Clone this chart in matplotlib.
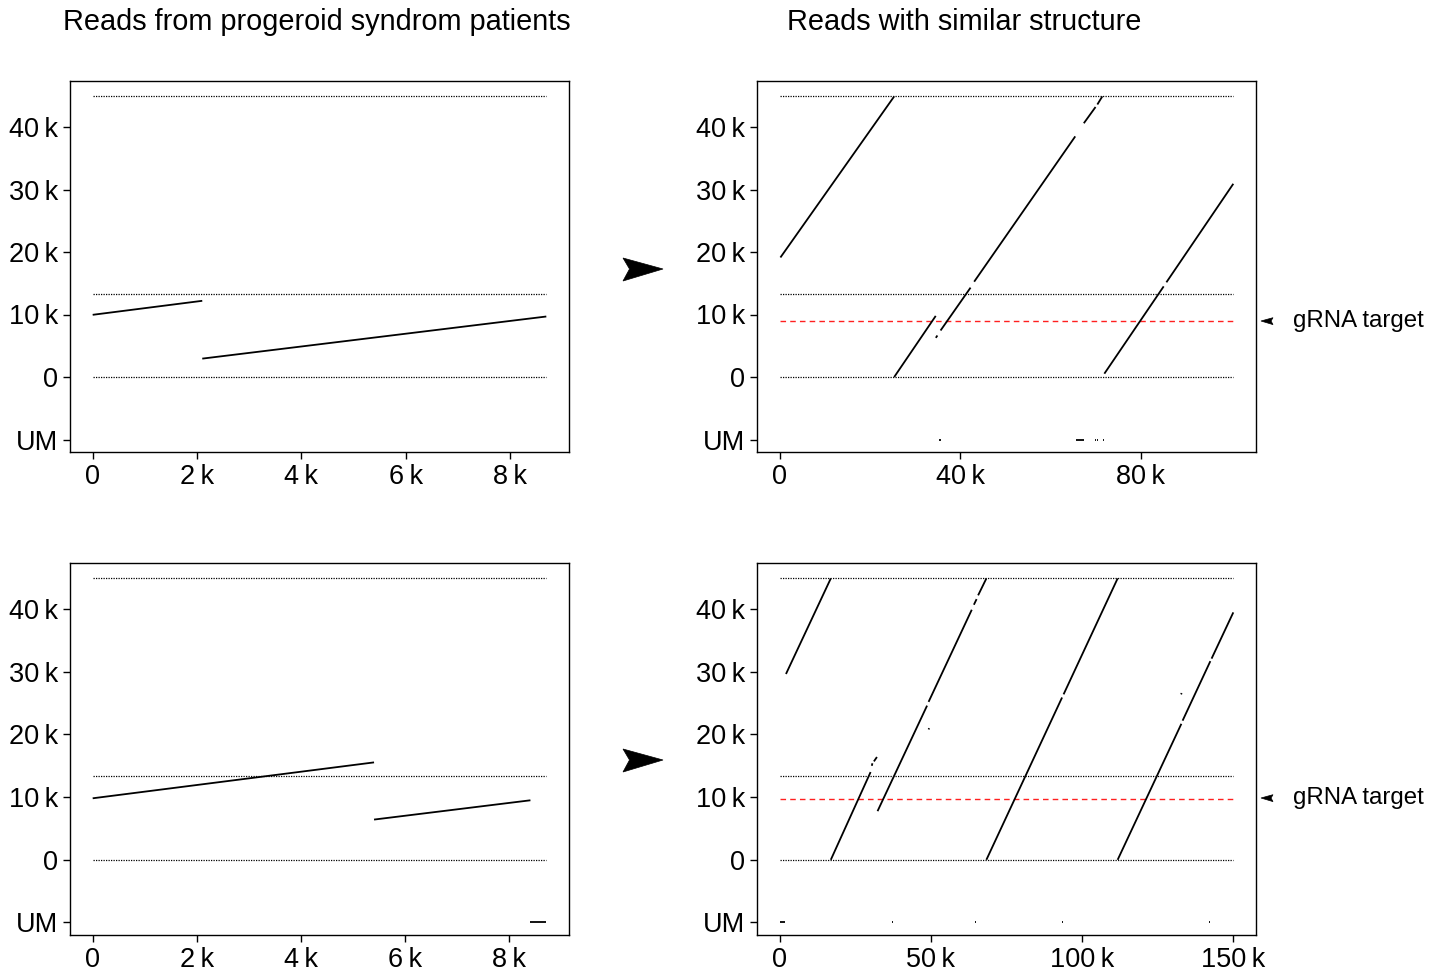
import matplotlib
matplotlib.use("Agg")
import matplotlib.pyplot as plt
from matplotlib.patches import Polygon

plt.rcParams['font.family'] = ['Liberation Sans', 'DejaVu Sans']

# ---------------- data ----------------
UM = -10000
ref_lines = [0, 13300, 44900]          # dotted reference positions
y_ticks = [UM, 0, 10000, 20000, 30000, 40000]
y_labels = ['UM', '0', '10\u2009k', '20\u2009k', '30\u2009k', '40\u2009k']

# top-left: read from patient 1
tl_x0 = [0, 2100]
tl_x1 = [2100, 8694]
tl_y0 = [9950, 2940]
tl_y1 = [12190, 9680]
tl_um_x0 = []
tl_um_x1 = []
tl_xmax = 8694
tl_xticks = [0, 2000, 4000, 6000, 8000]
tl_xlabels = ['0', '2\u2009k', '4\u2009k', '6\u2009k', '8\u2009k']

# bottom-left: read from patient 2
bl_x0 = [0, 5401]
bl_x1 = [5401, 8403]
bl_y0 = [9814, 6419]
bl_y1 = [15544, 9496]
bl_um_x0 = [8403]
bl_um_x1 = [8708]
bl_xmax = 8708
bl_xticks = [0, 2000, 4000, 6000, 8000]
bl_xlabels = ['0', '2\u2009k', '4\u2009k', '6\u2009k', '8\u2009k']

# top-right: similar read 1
tr_x0 = [164, 25380, 34600, 35650, 43100, 67400, 70400, 71950, 85700]
tr_x1 = [25380, 34580, 34950, 42300, 65500, 70000, 71500, 85100, 100530]
tr_y0 = [19124, 0, 6270, 7440, 15250, 40600, 43600, 531, 15150]
tr_y1 = [44900, 9774, 6640, 14300, 38500, 43200, 44900, 14500, 30916]
tr_um_x0 = [35400, 65700, 69900, 70400, 71700]
tr_um_x1 = [35800, 67400, 70100, 70600, 71900]
tr_xmax = 100530
tr_gRNA = 8900
tr_xticks = [0, 40000, 80000]
tr_xlabels = ['0', '40\u2009k', '80\u2009k']

# bottom-right: similar read 2
br_x0 = [2085, 16926, 30500, 31200, 32400, 49300, 64300, 65700,
         68440, 94000, 111900, 133400, 143000, 49300, 132900]
br_x1 = [16926, 30100, 30700, 32200, 48800, 63600, 65200, 68440,
         93500, 111900, 133000, 142600, 150200, 49500, 133100]
br_y0 = [29650, 0, 15000, 15700, 7760, 25200, 40700, 42200,
         0, 26400, 0, 22200, 32100, 20800, 26400]
br_y1 = [44900, 14000, 15400, 16400, 24600, 39900, 41600, 44900,
         25900, 44900, 21700, 31700, 39480, 21000, 26600]
br_um_x0 = [0, 37200, 64800, 93600, 142200]
br_um_x1 = [1900, 37500, 65100, 93900, 142500]
br_xmax = 150200
br_gRNA = 9700
br_xticks = [0, 50000, 100000, 150000]
br_xlabels = ['0', '50\u2009k', '100\u2009k', '150\u2009k']

titles = ['Reads from progeroid syndrom patients', 'Reads with similar structure']

# ---------------- layout ----------------
W, H = 1446, 974
fig = plt.figure(figsize=(W / 100, H / 100), dpi=100)


def fx(px):
    return px / W


def fy(py):
    return 1 - py / H


def make_ax(left, top, right, bottom):
    return fig.add_axes([fx(left), fy(bottom), fx(right - left), (bottom - top) / H])


TICK_FS = 19.5


def draw_panel(ax, x0, x1, y0, y1, umx0, umx1, xmax, xticks, xlabels, gRNA=None):
    for r in ref_lines:
        ax.plot([0, xmax], [r, r], color='black', lw=0.9, ls=(0, (1, 1)), zorder=1)
    if gRNA is not None:
        ax.plot([0, xmax], [gRNA, gRNA], color='#ff2020', lw=1.0, ls=(0, (4, 3)), zorder=1)
    for a, b, c, d in zip(x0, x1, y0, y1):
        ax.plot([a, b], [c, d], color='black', lw=1.3, solid_capstyle='butt', zorder=2)
    for a, b in zip(umx0, umx1):
        ax.plot([a, b], [UM, UM], color='black', lw=1.3, solid_capstyle='butt', zorder=2)
    ax.set_xlim(-0.05 * xmax, 1.05 * xmax)
    ax.set_ylim(-12000, 47360)
    ax.set_yticks(y_ticks)
    ax.set_yticklabels(y_labels)
    ax.set_xticks(xticks)
    ax.set_xticklabels(xlabels)
    ax.tick_params(axis='both', direction='out', length=5, width=1, labelsize=TICK_FS, pad=3.5)
    for s in ax.spines.values():
        s.set_linewidth(1.0)


ax_tl = make_ax(70, 81, 569, 452)
ax_tr = make_ax(757, 81, 1256, 452)
ax_bl = make_ax(70, 563, 569, 935)
ax_br = make_ax(757, 563, 1256, 935)

draw_panel(ax_tl, tl_x0, tl_x1, tl_y0, tl_y1, tl_um_x0, tl_um_x1, tl_xmax, tl_xticks, tl_xlabels)
draw_panel(ax_bl, bl_x0, bl_x1, bl_y0, bl_y1, bl_um_x0, bl_um_x1, bl_xmax, bl_xticks, bl_xlabels)
draw_panel(ax_tr, tr_x0, tr_x1, tr_y0, tr_y1, tr_um_x0, tr_um_x1, tr_xmax, tr_xticks, tr_xlabels, tr_gRNA)
draw_panel(ax_br, br_x0, br_x1, br_y0, br_y1, br_um_x0, br_um_x1, br_xmax, br_xticks, br_xlabels, br_gRNA)

fig.text(fx(317), fy(22), titles[0], ha='center', va='center', fontsize=20.8)
fig.text(fx(964), fy(22), titles[1], ha='center', va='center', fontsize=20.8)


def arrowhead(cx, cy, scale, facing=1):
    # notched arrowhead shape in pixel offsets
    pts = [(-20, -11), (20, 0), (-20, 12), (-13.5, 0)]
    verts = [(fx(cx + facing * px * scale), fy(cy + py * scale)) for px, py in pts]
    fig.patches.append(Polygon(verts, closed=True, transform=fig.transFigure,
                               facecolor='black', edgecolor='black', lw=0.5))


arrowhead(643, 269, 1.0)
arrowhead(643, 760, 1.0)
arrowhead(1267, 321, 0.3, facing=-1)
arrowhead(1267, 798, 0.3, facing=-1)

for gy in [321, 798]:
    fig.text(fx(1293), fy(gy), 'gRNA target', ha='left', va='center', fontsize=17.3)

fig.savefig('out.png', dpi=100)
